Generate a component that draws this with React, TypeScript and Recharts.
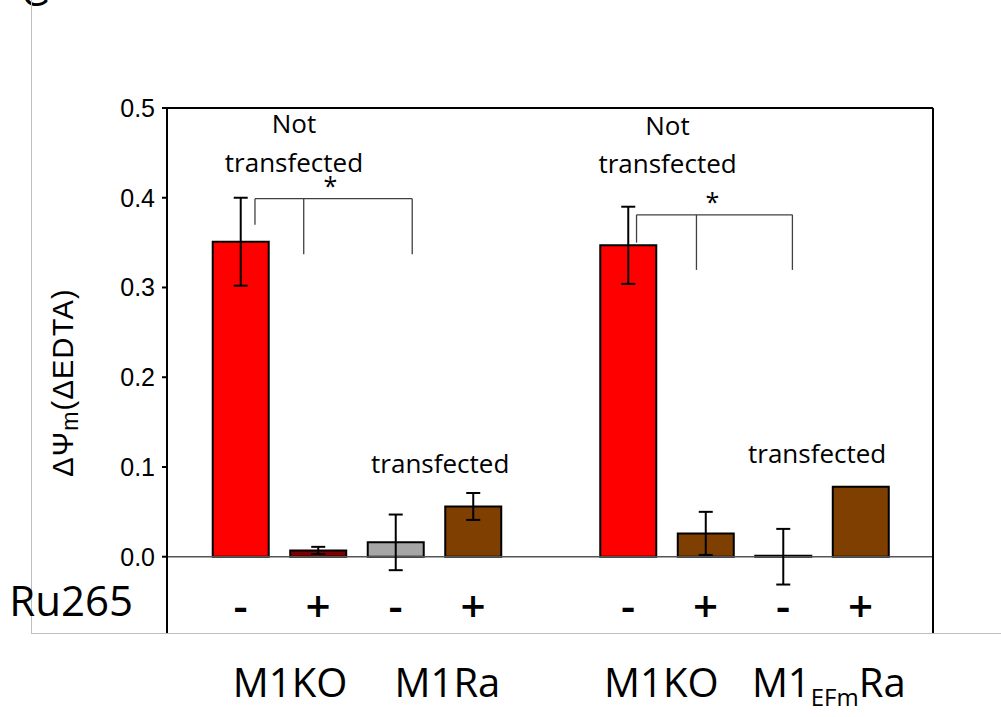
import React from 'react';
import {
  ComposedChart,
  Bar,
  Cell,
  XAxis,
  YAxis,
  ErrorBar,
  ReferenceLine,
  ReferenceDot,
} from 'recharts';

// ---- data ----
const positions = [1, 2, 3, 4, 6, 7, 8, 9];
const signs = ['-', '+', '-', '+', '-', '+', '-', '+'];
const values = [0.351, 0.007, 0.016, 0.056, 0.347, 0.026, 0.0, 0.078];
const errors = [0.049, 0.004, 0.031, 0.015, 0.043, 0.024, 0.031, 0];
const colors = ['#ff0000', '#7f0000', '#a6a6a6', '#7f3f00', '#ff0000', '#7f3f00', '#7f3f00', '#7f3f00'];
const groupLabels = ['M1KO', 'M1Ra', 'M1KO', 'M1EFmRa'];
const groupPositions = [1.64, 3.67, 6.43, 8.59];
const yTicks = [0, 0.1, 0.2, 0.3, 0.4, 0.5];

// significance brackets: [x1, y1, x2, y2] in data units
const bracketSegments = [
  [1.187, 0.399, 3.216, 0.399],
  [1.187, 0.399, 1.187, 0.37],
  [1.816, 0.399, 1.816, 0.337],
  [3.216, 0.399, 3.216, 0.337],
  [6.11, 0.381, 8.121, 0.381],
  [6.11, 0.381, 6.11, 0.35],
  [6.883, 0.381, 6.883, 0.3196],
  [8.121, 0.381, 8.121, 0.3196],
];

// annotation texts: x, y (baseline, data units), text
const annotations = [
  { x: 1.69, y: 0.472, text: 'Not' },
  { x: 1.69, y: 0.429, text: 'transfected' },
  { x: 6.51, y: 0.47, text: 'Not' },
  { x: 6.51, y: 0.4276, text: 'transfected' },
  { x: 3.577, y: 0.0935, text: 'transfected' },
  { x: 8.44, y: 0.1047, text: 'transfected' },
];
const stars = [
  { x: 2.16, y: 0.403 },
  { x: 7.09, y: 0.385 },
];

const xDomain = [0.052, 9.935];
const yDomain = [-0.085, 0.5];

const data = positions.map((p, i) => ({
  pos: p,
  value: values[i],
  err: errors[i],
}));

const CAL = '"Open Sans", "Noto Sans", sans-serif';
const ARIAL = '"Liberation Sans", Arial, sans-serif';

const BarShape = (p: any) => {
  const { x, y, width, height, fill } = p;
  if (x == null || y == null) return null;
  return (
    <path
      d={`M${x},${y}h${width}v${height || 0}h${-width}Z`}
      fill={fill}
      stroke="#000"
      strokeWidth={2}
    />
  );
};

const SignTick = (p: any) => {
  const idx = positions.indexOf(p.payload.value);
  return (
    <text
      x={p.x}
      y={p.y - 11}
      textAnchor="middle"
      fontFamily={CAL}
      fontSize={44}
      fontWeight={600}
      fill="#000"
    >
      {signs[idx] ?? ''}
    </text>
  );
};

const GroupTick = (p: any) => {
  const idx = groupPositions.indexOf(p.payload.value);
  const label = groupLabels[idx] ?? '';
  const y = p.y + 63;
  if (label === 'M1EFmRa') {
    return (
      <text x={p.x} y={y} textAnchor="middle" fontFamily={CAL} fontSize={40} fill="#000">
        <tspan>M1</tspan>
        <tspan fontSize={24} dy={9}>EFm</tspan>
        <tspan dy={-9}>Ra</tspan>
      </text>
    );
  }
  return (
    <text x={p.x} y={y} textAnchor="middle" fontFamily={CAL} fontSize={40} fill="#000">
      {label}
    </text>
  );
};

const YLabel = (props: any) => {
  const vb = props.viewBox || { x: 0, y: 108, width: 167, height: 525 };
  const cx = vb.x + 63;
  const cy = vb.y + vb.height / 2 + 12;
  return (
    <text
      x={cx}
      y={cy}
      transform={`rotate(-90 ${cx} ${cy})`}
      textAnchor="middle"
      dominantBaseline="central"
      fontFamily={ARIAL}
      fontSize={29}
      letterSpacing={1.2}
      fill="#000"
    >
      <tspan>ΔΨ</tspan>
      <tspan fontSize={23} dy={7}>m</tspan>
      <tspan dy={-7}>(ΔEDTA)</tspan>
    </text>
  );
};

const RuLabel = (props: any) => {
  const vb = props.viewBox || { x: 167, y: 633 };
  return (
    <text x={vb.x - 34} y={vb.y - 17} textAnchor="end" fontFamily={CAL} fontSize={42} fill="#000">
      Ru265
    </text>
  );
};

export default function App() {
  return (
    <div
      style={{
        position: 'absolute',
        left: 0,
        top: 0,
        width: 1001,
        height: 717,
        background: '#fff',
        overflow: 'hidden',
      }}
    >
      <div
        style={{
          position: 'absolute',
          left: 22,
          top: -24,
          fontFamily: ARIAL,
          fontSize: 36,
          lineHeight: '36px',
          color: '#000',
        }}
      >
        G
      </div>
      <div
        style={{
          position: 'absolute',
          left: 31,
          top: 0,
          width: 975,
          height: 634,
          borderLeft: '1px solid #bfbfbf',
          borderBottom: '1px solid #bfbfbf',
          boxSizing: 'border-box',
        }}
      />
      <div style={{ position: 'absolute', left: 0, top: 0 }}>
        <ComposedChart
          width={1001}
          height={717}
          data={data}
          margin={{ top: 108, right: 68, bottom: 0, left: 0 }}
        >
          <XAxis
            xAxisId={0}
            dataKey="pos"
            type="number"
            domain={xDomain}
            allowDataOverflow
            ticks={positions}
            interval={0}
            height={1}
            tickSize={0}
            tickMargin={0}
            axisLine={false}
            tickLine={false}
            tick={<SignTick />}
            label={<RuLabel />}
          />
          <XAxis
            xAxisId="grp"
            dataKey="pos"
            type="number"
            domain={xDomain}
            allowDataOverflow
            ticks={groupPositions}
            interval={0}
            height={83}
            tickSize={0}
            tickMargin={0}
            axisLine={false}
            tickLine={false}
            tick={<GroupTick />}
          />
          <YAxis
            type="number"
            domain={yDomain}
            allowDataOverflow
            ticks={yTicks}
            interval={0}
            width={167}
            axisLine={{ stroke: '#000', strokeWidth: 2 }}
            tickLine={{ stroke: '#000', strokeWidth: 2 }}
            tickSize={5}
            tickMargin={7}
            tickFormatter={(v: number) => v.toFixed(1)}
            tick={{ fill: '#000', fontFamily: ARIAL, fontSize: 25 }}
            label={<YLabel />}
          />
          <ReferenceLine y={0} stroke="#555" strokeWidth={1.5} />
          <ReferenceLine y={0.5} stroke="#000" strokeWidth={2} />
          <ReferenceLine x={xDomain[1]} stroke="#000" strokeWidth={2} />
          <Bar
            dataKey="value"
            barSize={56}
            minPointSize={1}
            isAnimationActive={false}
            shape={<BarShape />}
          >
            {data.map((d, i) => (
              <Cell key={i} fill={colors[i]} />
            ))}
            <ErrorBar
              dataKey="err"
              direction="y"
              width={7}
              stroke="#000"
              strokeWidth={2}
              isAnimationActive={false}
            />
          </Bar>
          {bracketSegments.map((s, i) => (
            <ReferenceLine
              key={'b' + i}
              segment={[
                { x: s[0], y: s[1] },
                { x: s[2], y: s[3] },
              ]}
              stroke="#404040"
              strokeWidth={1.3}
            />
          ))}
          {annotations.map((a, i) => (
            <ReferenceDot
              key={'a' + i}
              x={a.x}
              y={a.y}
              r={0}
              shape={(p: any) => (
                <text
                  x={p.cx}
                  y={p.cy}
                  textAnchor="middle"
                  fontFamily={CAL}
                  fontSize={26}
                  fill="#000"
                >
                  {a.text}
                </text>
              )}
            />
          ))}
          {stars.map((s, i) => (
            <ReferenceDot
              key={'s' + i}
              x={s.x}
              y={s.y}
              r={0}
              shape={(p: any) => (
                <text
                  x={p.cx}
                  y={p.cy}
                  textAnchor="middle"
                  fontFamily={CAL}
                  fontSize={25}
                  fill="#000"
                >
                  *
                </text>
              )}
            />
          ))}
        </ComposedChart>
      </div>
    </div>
  );
}
